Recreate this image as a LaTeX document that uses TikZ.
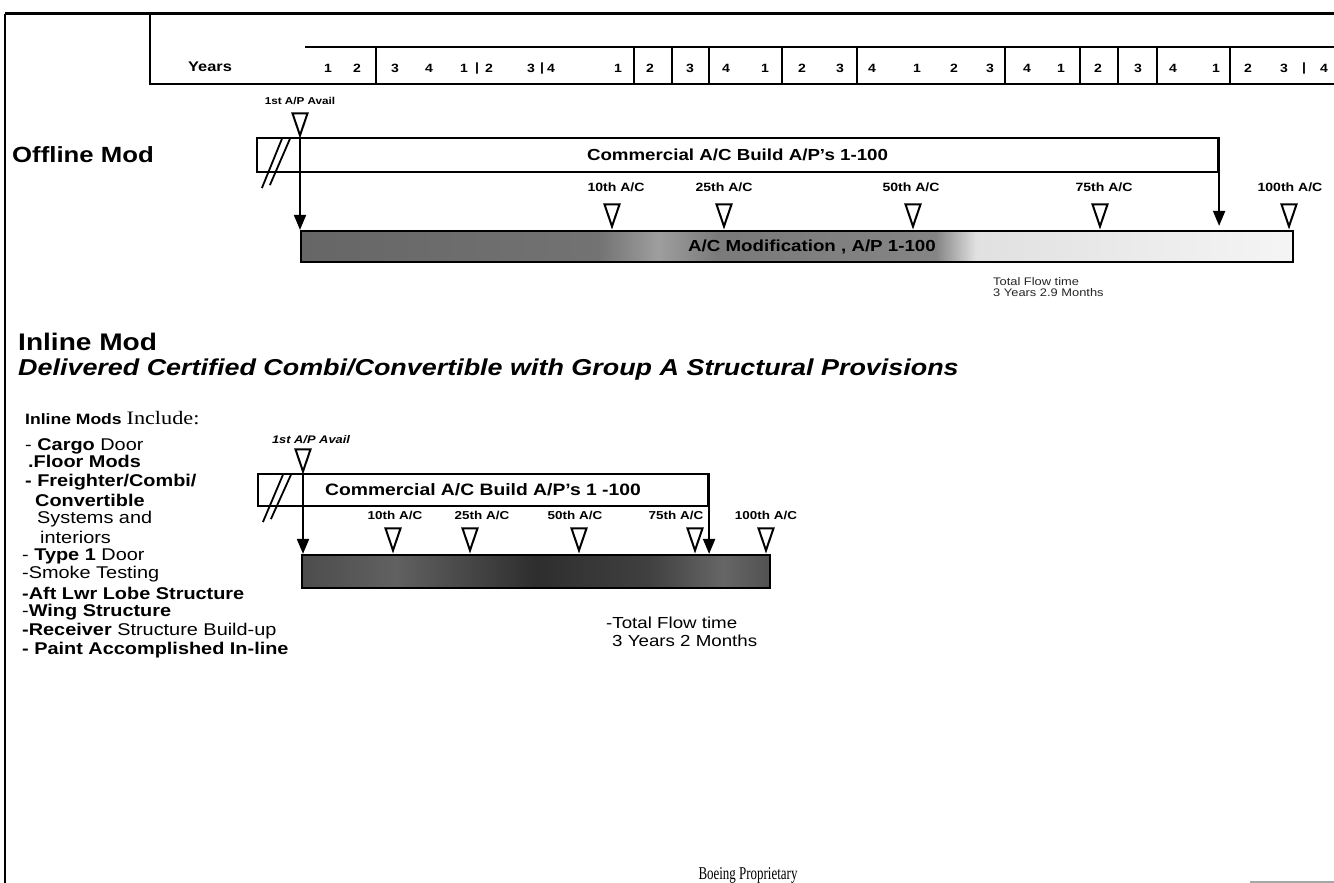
\documentclass[tikz,border=0pt]{standalone}
\usepackage{fontspec}
\setmainfont{Liberation Sans}[FakeStretch=1.17]
\newfontfamily\inclfont{Liberation Serif}[FakeStretch=1.17]
\newfontfamily\propfont{Liberation Serif}[FakeStretch=0.72]
\usetikzlibrary{arrows.meta,shapes.geometric,positioning}

\pgfdeclarehorizontalshading{offfade}{100bp}{color(0bp)=(black!60); color(25bp)=(black!60); color(40bp)=(black!55); color(43bp)=(black!38); color(46bp)=(black!52); color(57bp)=(black!48); color(59bp)=(black!12); color(75bp)=(black!4); color(100bp)=(black!4)}
\pgfdeclarehorizontalshading{infade}{100bp}{color(0bp)=(black!70); color(25bp)=(black!70); color(35bp)=(black!62); color(50bp)=(black!82); color(62bp)=(black!75); color(70bp)=(black!60); color(75bp)=(black!68); color(100bp)=(black!68)}

\begin{document}
\begin{tikzpicture}[x=1pt,y=-1pt,
    rule/.style={line width=2.4pt},
    sep/.style={line width=2pt},
    yr/.style={font=\bfseries\fontsize{12}{14}\selectfont, inner sep=0pt},
    head/.style={font=\bfseries\fontsize{22}{26}\selectfont, inner sep=0pt, anchor=west},
    bar/.style={draw, line width=2.2pt, inner sep=0pt, font=\bfseries\fontsize{16}{18}\selectfont},
    modbar/.style={draw, line width=2.2pt, inner sep=0pt, shade},
    mstone/.style={draw, line width=2pt, isosceles triangle, isosceles triangle stretches,
        shape border rotate=-90, minimum width=15pt, minimum height=22pt, inner sep=0pt, anchor=apex},
    mlabel/.style={font=\bfseries\fontsize{12}{14}\selectfont, inner sep=0pt},
    arr/.style={line width=2pt, -{Triangle[length=15pt,width=12pt]}},
    brk/.style={line width=1.8pt},
    item/.style={anchor=west, inner sep=0pt, font=\fontsize{17}{19}\selectfont}
]
\useasboundingbox (0,0) rectangle (1334,883);

% frame and year header
\draw[line width=3pt] (5,14) -- (1340,14);
\draw[rule] (5,14) -- (5,883);
\draw[rule] (150,14) -- (150,84) -- (1340,84);
\draw[rule] (305,47) -- (1340,47);
\foreach \x in {376,634,672,709,782,857,1005,1080,1118,1157,1230}
    \draw[sep] (\x,47) -- (\x,84);
\node[font=\bfseries\fontsize{14}{16}\selectfont, inner sep=0pt] (yrs) at (210,67) {Years};
\foreach \x/\t [count=\i] in {328/1,357/2,395/3,429/4,464/1,477/|,489/2,531/3,542/|,551/4,
        618/1,650/2,690/3,726/4,765/1,802/2,840/3,872/4,917/1,954/2,990/3,1027/4,
        1061/1,1098/2,1138/3,1173/4,1216/1,1248/2,1284/3,1304/|,1324/4}
    \node[yr] (q\i) at (\x,68) {\t};

% offline mod
\node[head] (offl) at (12,155) {Offline Mod};
\node[bar, minimum width=961pt, minimum height=34pt] (bld1) at (737.5,155) {Commercial A/C Build A/P's 1-100};
\draw[brk] ([shift={(6,15)}]bld1.south west) -- ([shift={(26,2)}]bld1.north west);
\draw[brk] ([shift={(14,12)}]bld1.south west) -- ([shift={(34,2)}]bld1.north west);
\node[mstone] (av1) at (300,138) {};
\node[mlabel, font=\bfseries\fontsize{10}{12}\selectfont, above=7pt of av1] (av1l) {1st A/P Avail};

\node[modbar, shading=offfade, minimum width=992pt, minimum height=31pt] (mod1) at (797,246.5) {};
\node[font=\bfseries\fontsize{16}{18}\selectfont, inner sep=0pt] (mod1t) at (812,247) {A/C Modification , A/P 1-100};
\foreach \x/\n/\d in {612/10th/4,724/25th/0,913/50th/-2,1100/75th/4,1289/100th/1} {
    \node[mstone] (m\n) at (\x,229) {};
    \node[mlabel, above=11pt of m\n, xshift=\d pt] (l\n) {\n\ A/C};
}
\draw[arr] (av1.apex) -- (av1.apex |- mod1.north);
\draw[arr, shorten >=4pt] (bld1.north east) -- (bld1.north east |- mod1.north);
\node[anchor=north west, inner sep=0pt, align=left, text=black!85,
    font=\fontsize{11}{11.5}\selectfont] (tf1) at (993,277) {Total Flow time\\3 Years 2.9 Months};

% inline mod
\node[head, font=\bfseries\fontsize{24}{28}\selectfont] (inl) at (18,342) {Inline Mod};
\node[anchor=west, inner sep=0pt, font=\bfseries\itshape\fontsize{23}{26}\selectfont] (dlv) at (18,370)
    {Delivered Certified Combi/Convertible with Group A Structural Provisions};
\node[anchor=west, inner sep=0pt] (incl) at (25,418)
    {\bfseries\fontsize{15}{17}\selectfont Inline Mods \inclfont\mdseries\fontsize{19}{21}\selectfont Include:};

\node[item] (i1) at (25,446) {- \textbf{Cargo} Door};
\node[item] (i2) at (28,461) {\textbf{.Floor Mods}};
\node[item] (i3) at (25,482) {\textbf{- Freighter/Combi/}};
\node[item] (i4) at (35,500) {\textbf{Convertible}};
\node[item] (i5) at (37,519) {Systems and};
\node[item] (i6) at (40,537) {interiors};
\node[item] (i7) at (22,556) {- \textbf{Type 1} Door};
\node[item] (i8) at (22,574) {-Smoke Testing};
\node[item] (i9) at (22,593) {\textbf{-Aft Lwr Lobe Structure}};
\node[item] (i10) at (22,612) {-\textbf{Wing Structure}};
\node[item] (i11) at (22,631) {\textbf{-Receiver} Structure Build-up};
\node[item] (i12) at (22,650) {\textbf{- Paint Accomplished In-line}};

\node[bar, font=\bfseries\fontsize{16.5}{18}\selectfont, minimum width=450pt, minimum height=32pt] (bld2) at (483,490)
    {Commercial A/C Build A/P's 1 -100};
\draw[brk] ([shift={(6,15)}]bld2.south west) -- ([shift={(26,2)}]bld2.north west);
\draw[brk] ([shift={(14,12)}]bld2.south west) -- ([shift={(34,2)}]bld2.north west);
\node[mstone] (av2) at (303,474) {};
\node[mlabel, font=\bfseries\itshape\fontsize{11}{13}\selectfont, above=4pt of av2, xshift=8pt] (av2l) {1st A/P Avail};

\node[modbar, shading=infade, minimum width=468pt, minimum height=33pt] (mod2) at (536,571.5) {};
\foreach \x/\n/\d in {393/10th/2,470/25th/12,579/50th/-4,695/75th/-19,766/100th/0} {
    \node[mstone] (k\n) at (\x,553) {};
    \node[mlabel, font=\bfseries\fontsize{11.5}{13}\selectfont, above=7pt of k\n, xshift=\d pt] (j\n) {\n\ A/C};
}
\draw[arr] (av2.apex) -- (av2.apex |- mod2.north);
\draw[arr] (bld2.north east) -- (bld2.north east |- mod2.north);
\node[anchor=north west, inner sep=0pt, align=left, font=\fontsize{16}{18}\selectfont] (tf2) at (606,617)
    {-Total Flow time\\\hspace*{6pt}3 Years 2 Months};

% footer
\node[font=\propfont\fontsize{18}{20}\selectfont, inner sep=0pt] (bp) at (748,875) {Boeing Proprietary};
\draw[line width=3pt, black!35] (1250,882) -- (1340,882);
\end{tikzpicture}
\end{document}
